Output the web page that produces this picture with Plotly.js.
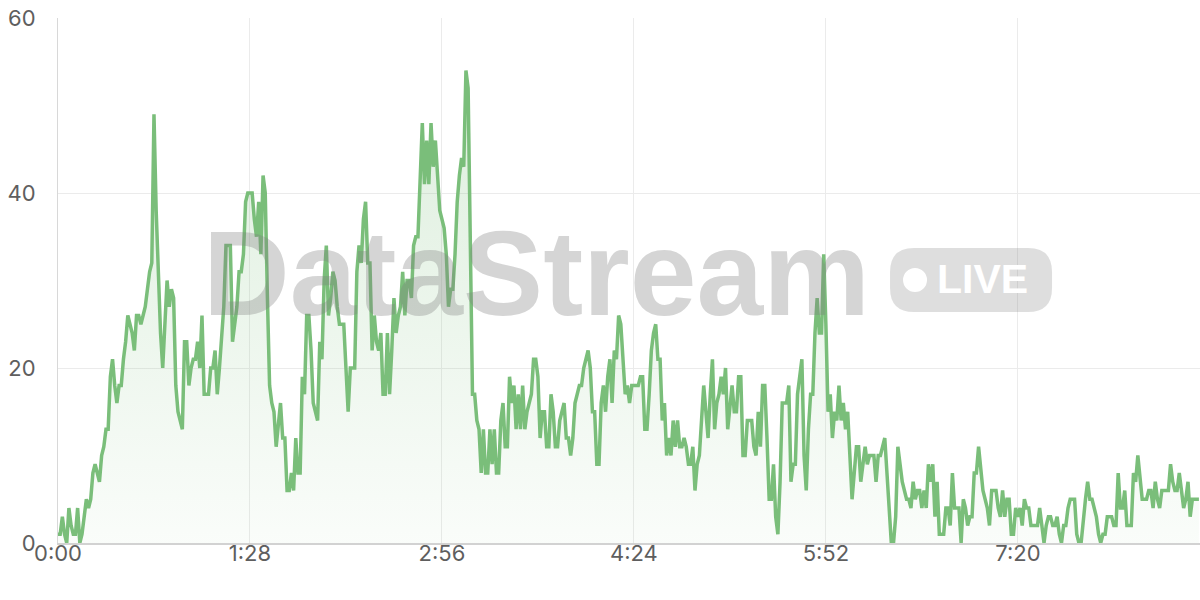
<!DOCTYPE html>
<html>
<head>
<meta charset="utf-8">
<script src="https://cdn.plot.ly/plotly-3.0.1.min.js"></script>
<style>
  html, body { margin: 0; padding: 0; background: #ffffff; }
  #chart { width: 1200px; height: 600px; }
</style>
</head>
<body>
<div id="chart"></div>
<script>
// one sample per second, starting at 0:00
const startSecond = 0;
const stepSeconds = 1;
const values = [
  1,1,3,1,0,4,2,1,1,4,
  0,1,3,5,4,5,8,9,8,7,
  10,11,13,13,19,21,18,16,18,18,
  21,23,26,25,24,22,26,26,25,26,
  27,29,31,32,49,38,31,24,20,25,
  30,27,29,28,18,15,14,13,23,23,
  18,20,21,21,23,20,26,17,17,17,
  20,20,22,17,20,24,27,34,34,34,
  23,25,27,31,31,33,39,40,40,40,
  37,35,39,33,42,40,28,18,16,15,
  11,14,16,12,12,6,6,8,6,12,
  8,8,19,17,26,26,22,16,15,14,
  23,21,30,34,26,28,31,30,27,25,
  25,25,20,15,20,20,20,31,34,32,
  37,39,32,32,22,26,23,22,24,17,
  17,24,17,22,28,24,26,27,31,26,
  30,30,28,34,35,35,41,48,41,46,
  41,48,43,46,42,38,37,36,33,27,
  29,29,33,39,42,44,43,54,52,34,
  17,17,14,13,8,13,8,8,13,9,
  13,8,8,14,16,11,11,19,16,18,
  13,17,13,18,13,15,16,17,21,21,
  19,12,15,15,11,11,17,15,11,11,
  14,15,16,12,12,10,12,16,17,18,
  18,20,21,22,20,15,15,9,9,16,
  18,15,19,21,16,22,21,26,25,20,
  17,18,16,18,18,18,18,19,19,13,
  13,17,22,24,25,21,21,14,16,10,
  12,10,14,11,14,11,11,12,11,9,
  9,11,6,9,10,14,18,15,12,17,
  21,13,16,17,19,17,20,13,16,18,
  15,15,19,19,10,10,14,14,14,11,
  10,15,11,18,18,12,5,5,9,3,
  1,7,16,16,16,18,7,9,9,17,
  19,21,10,6,13,17,17,24,28,24,
  24,33,25,15,17,12,15,14,18,14,
  16,13,15,9,5,8,11,11,7,9,
  11,9,10,10,10,7,10,10,11,12,
  8,3,0,0,3,11,9,7,6,5,
  5,4,7,5,6,6,4,6,4,9,
  7,9,3,7,1,1,1,4,4,2,
  8,4,4,4,0,5,4,2,3,3,
  8,8,11,8,6,5,4,2,6,6,
  6,4,3,6,3,5,5,1,1,4,
  3,4,2,5,4,4,2,2,2,2,
  4,2,0,2,3,3,2,2,3,1,
  0,2,2,4,5,5,5,1,0,0,
  3,5,7,5,5,4,3,1,0,1,
  1,3,3,3,2,2,8,4,4,6,
  2,2,2,8,7,10,7,5,5,5,
  6,6,4,7,5,4,6,6,6,6,
  9,7,6,6,8,6,4,5,7,3,
  5,5,5,5
];
const xTickVals = [0, 88, 176, 264, 352, 440];
const xTickText = ['0:00', '1:28', '2:56', '4:24', '5:52', '7:20'];
const yTickVals = [0, 20, 40, 60];
const watermarkText = 'DataStream';
const badgeText = 'LIVE';

const lineColor = 'rgb(122,190,122)';

const trace = {
  type: 'scatter',
  mode: 'lines',
  x0: startSecond,
  dx: stepSeconds,
  y: values,
  line: { color: lineColor, width: 3.5, shape: 'linear' },
  fill: 'tozeroy',
  fillgradient: {
    type: 'vertical',
    colorscale: [[0, 'rgba(124,191,124,0.04)'], [1, 'rgba(124,191,124,0.26)']]
  },
  hoverinfo: 'skip'
};

const font = { family: 'Inter, "Noto Sans", sans-serif', size: 22, color: '#5e5e5e' };

// rounded badge path (pixels relative to anchor)
const bw = 81, bh = 32, br = 24;
const badgePath =
  `M ${-bw + br} ${bh} L ${bw - br} ${bh} Q ${bw} ${bh} ${bw} ${bh - br} ` +
  `L ${bw} ${-bh + br} Q ${bw} ${-bh} ${bw - br} ${-bh} ` +
  `L ${-bw + br} ${-bh} Q ${-bw} ${-bh} ${-bw} ${-bh + br} ` +
  `L ${-bw} ${bh - br} Q ${-bw} ${bh} ${-bw + br} ${bh} Z`;

const layout = {
  width: 1200,
  height: 600,
  margin: { l: 58, r: 0, t: 18, b: 57 },
  paper_bgcolor: '#ffffff',
  plot_bgcolor: '#ffffff',
  showlegend: false,
  font: font,
  xaxis: {
    range: [0, 523.5],
    tickvals: xTickVals,
    ticktext: xTickText,
    showgrid: true,
    gridcolor: '#ebebeb',
    gridwidth: 1,
    showline: true,
    linecolor: '#d2d2d2',
    linewidth: 2,
    zeroline: false,
    ticks: '',
    ticklen: 0,
    ticklabelstandoff: -10,
    tickfont: font,
    fixedrange: true
  },
  yaxis: {
    range: [0, 60],
    tickvals: yTickVals,
    showgrid: true,
    gridcolor: '#ebebeb',
    gridwidth: 1,
    showline: true,
    linecolor: '#d8d8d8',
    linewidth: 1,
    zeroline: false,
    ticks: '',
    ticklabelstandoff: 17,
    tickfont: font,
    fixedrange: true
  },
  shapes: [{
    type: 'path',
    xref: 'paper', yref: 'paper',
    xsizemode: 'pixel', ysizemode: 'pixel',
    xanchor: 0.7995, yanchor: 0.501,
    path: badgePath,
    fillcolor: 'rgba(128,128,128,0.26)',
    line: { width: 0 },
    layer: 'above'
  }, {
    type: 'circle',
    xref: 'paper', yref: 'paper',
    xsizemode: 'pixel', ysizemode: 'pixel',
    xanchor: 0.7995, yanchor: 0.501,
    x0: -68, x1: -44, y0: -12, y1: 12,
    fillcolor: '#ffffff',
    line: { width: 0 },
    layer: 'above'
  }],
  annotations: [{
    xref: 'paper', yref: 'paper',
    x: 0.4194, y: 0.515,
    xanchor: 'center', yanchor: 'middle',
    text: '<b>' + watermarkText + '</b>',
    showarrow: false,
    font: { family: '"Liberation Sans", Arial, sans-serif', size: 120, color: 'rgba(128,128,128,0.33)' }
  }, {
    xref: 'paper', yref: 'paper',
    x: 0.8095, y: 0.503,
    xanchor: 'center', yanchor: 'middle',
    text: '<b>' + badgeText + '</b>',
    showarrow: false,
    font: { family: '"Liberation Sans", Arial, sans-serif', size: 41, color: '#ffffff' }
  }]
};

Plotly.newPlot('chart', [trace], layout, { displayModeBar: false, staticPlot: true });
</script>
</body>
</html>
